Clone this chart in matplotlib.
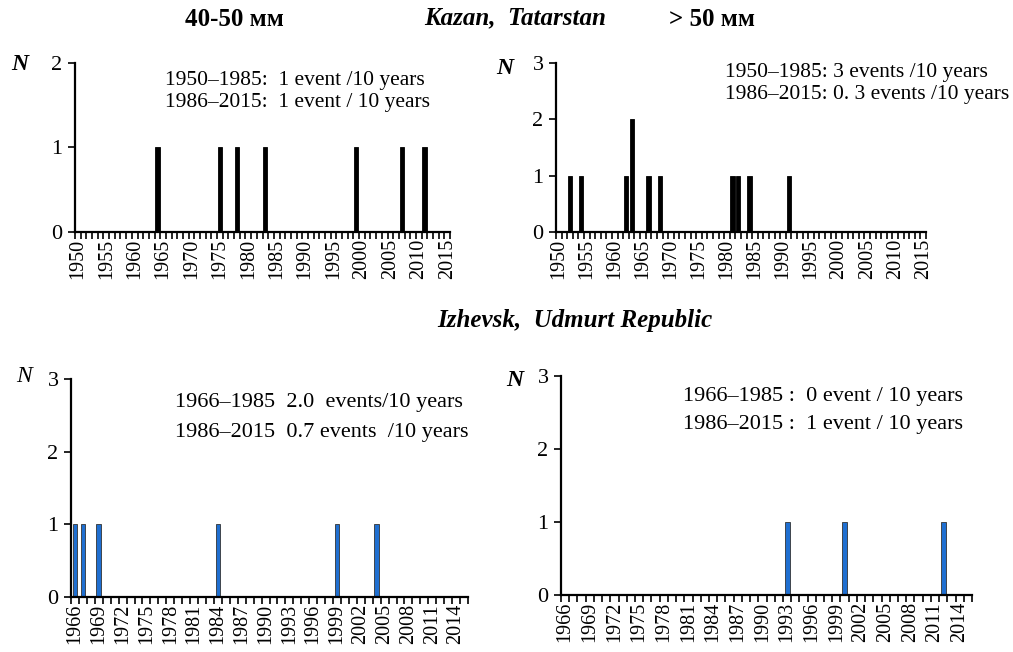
import numpy as np
import matplotlib.pyplot as plt

plt.rcParams["font.family"] = ["Liberation Serif", "DejaVu Serif"]

# Kazan, 1950-2015
kazan_years = list(range(1950, 2016))
kazan_40_50_events = [1964, 1975, 1978, 1983, 1999, 2007, 2011]
kazan_gt50_events = {1952: 1, 1954: 1, 1962: 1, 1963: 2, 1966: 1, 1968: 1,
                     1981: 1, 1982: 1, 1984: 1, 1991: 1}

# Izhevsk, 1966-2015
izh_years = list(range(1966, 2016))
izh_40_50_events = [1966, 1967, 1969, 1984, 1999, 2004]
izh_gt50_events = [1993, 2000, 2012]

kazan_40_50 = [1 if y in kazan_40_50_events else 0 for y in kazan_years]
kazan_gt50 = [kazan_gt50_events.get(y, 0) for y in kazan_years]
izh_40_50 = [1 if y in izh_40_50_events else 0 for y in izh_years]
izh_gt50 = [1 if y in izh_gt50_events else 0 for y in izh_years]

W, H = 1013, 652
fig = plt.figure(figsize=(W / 100, H / 100), dpi=100)


def px_axes(left, right, top, bottom):
    return fig.add_axes([left / W, 1 - bottom / H, (right - left) / W, (bottom - top) / H])


def ftext(x, y, s, **kw):
    fig.text(x / W, 1 - y / H, s, **kw)


def panel(ax, years, vals, ymax, step, color, edge, width):
    x = np.arange(len(years))
    ax.bar(x, vals, width=width, color=color, edgecolor=edge, linewidth=0.6)
    ax.set_xlim(-0.5, len(years) - 0.5)
    ax.set_ylim(0, ymax)
    ax.set_yticks(range(ymax + 1))
    for s in ("top", "right"):
        ax.spines[s].set_visible(False)
    for s in ("left", "bottom"):
        ax.spines[s].set_linewidth(1.6)
    lab_idx = [i for i, y in enumerate(years) if (y - years[0]) % step == 0]
    ax.set_xticks(lab_idx)
    ax.set_xticklabels([str(years[i]) for i in lab_idx], rotation=90, fontsize=14.5)
    ax.set_xticks(np.arange(len(years) + 1) - 0.5, minor=True)
    ax.tick_params(axis="x", which="major", length=0, pad=5)
    ax.tick_params(axis="x", which="minor", length=5, width=1.2, direction="out")
    ax.tick_params(axis="y", length=5, width=1.2, labelsize=16, pad=4)


ax1 = px_axes(75, 450, 63, 232)
panel(ax1, kazan_years, kazan_40_50, 2, 5, "black", "black", 0.75)
ax2 = px_axes(556, 926, 63, 232)
panel(ax2, kazan_years, kazan_gt50, 3, 5, "black", "black", 0.75)
ax3 = px_axes(71, 468, 379, 597)
panel(ax3, izh_years, izh_40_50, 3, 3, "#1f6fd1", "#333333", 0.6)
ax4 = px_axes(561, 972, 376, 595)
panel(ax4, izh_years, izh_gt50, 3, 3, "#1f6fd1", "#333333", 0.6)

# rate annotations
ann = dict(ha="left", va="center")
ftext(165, 80, "1950–1985:  1 event /10 years", fontsize=15.5, **ann)
ftext(165, 103, "1986–2015:  1 event / 10 years", fontsize=15.5, **ann)
ftext(725, 72, "1950–1985: 3 events /10 years", fontsize=15.5, **ann)
ftext(725, 95, "1986–2015: 0. 3 events /10 years", fontsize=15.5, **ann)
ftext(175, 403, "1966–1985  2.0  events/10 years", fontsize=16, **ann)
ftext(175, 432, "1986–2015  0.7 events  /10 years", fontsize=16, **ann)
ftext(683, 397, "1966–1985 :  0 event / 10 years", fontsize=16, **ann)
ftext(683, 425, "1986–2015 :  1 event / 10 years", fontsize=16, **ann)

# N labels
nk = dict(fontsize=17, style="italic", ha="center", va="center")
ftext(20, 64, "N", fontweight="bold", **nk)
ftext(505, 68, "N", fontweight="bold", **nk)
ftext(24, 377, "N", **nk)
ftext(515, 380, "N", fontweight="bold", **nk)

# titles
tk = dict(fontsize=18, fontweight="bold", ha="center", va="center")
ftext(234, 19, "40-50 мм", **tk)
ftext(515, 18, "Kazan,  Tatarstan", style="italic", **tk)
ftext(712, 19, "> 50 мм", **tk)
ftext(575, 320, "Izhevsk,  Udmurt Republic", style="italic", **tk)

fig.savefig("out.png", dpi=100)
